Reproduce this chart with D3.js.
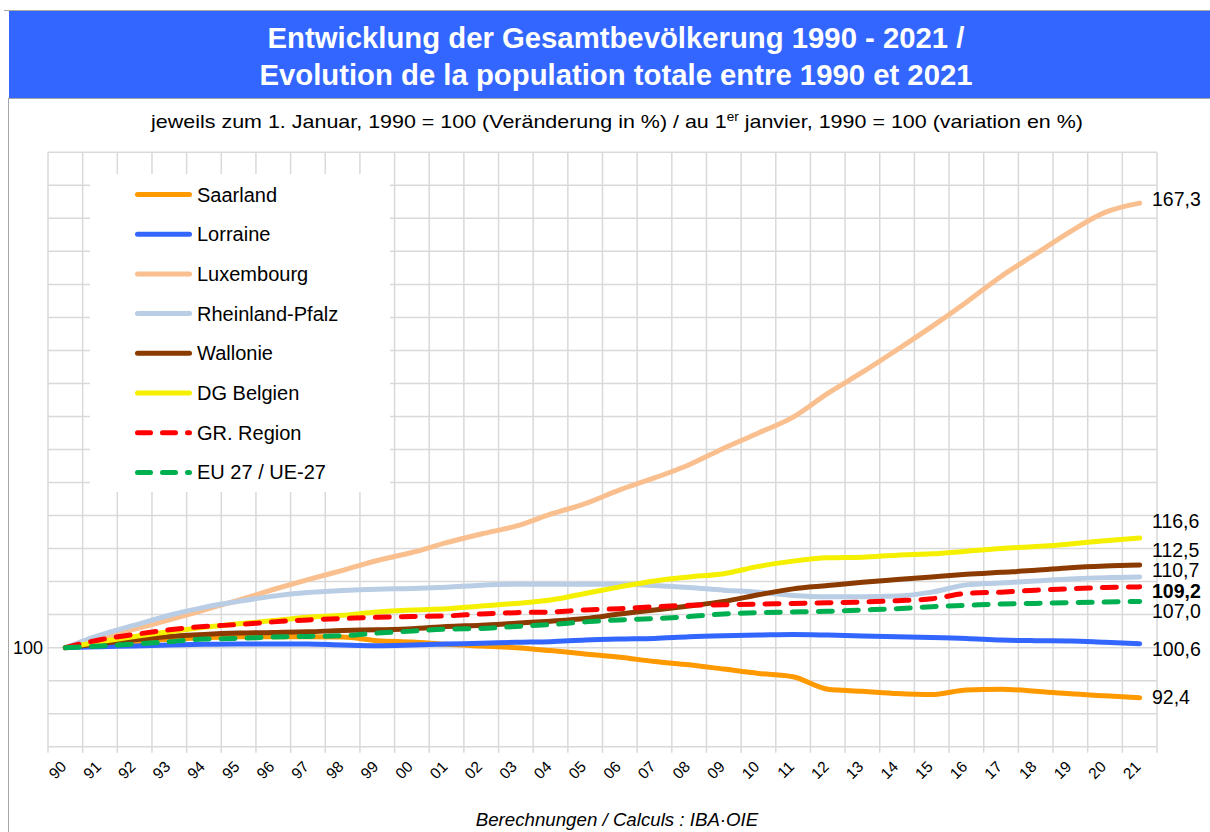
<!DOCTYPE html>
<html>
<head>
<meta charset="utf-8">
<script src="https://cdn.jsdelivr.net/npm/d3@7/dist/d3.min.js"></script>
<style>
  html, body { margin: 0; padding: 0; background: #ffffff; }
  svg { display: block; font-family: "Liberation Sans", Arial, sans-serif; }
</style>
</head>
<body>
<script>
// ---------- DATA ----------
const years = ["90","91","92","93","94","95","96","97","98","99","00","01","02","03","04","05","06","07","08","09","10","11","12","13","14","15","16","17","18","19","20","21"];

const seriesNames = ["Saarland","Lorraine","Luxembourg","Rheinland-Pfalz","Wallonie","DG Belgien","GR. Region","EU 27 / UE-27"];

const saarland   = [100,100.55,100.9,101.25,101.5,101.65,101.65,101.65,101.6,101.05,100.85,100.5,100.25,100.0,99.55,99.05,98.55,97.9,97.4,96.75,96.1,95.6,93.7,93.4,93.05,92.9,93.6,93.7,93.4,93.0,92.7,92.4];
const lorraine   = [100,100.15,100.25,100.4,100.5,100.55,100.55,100.55,100.4,100.3,100.4,100.55,100.65,100.8,100.9,101.15,101.3,101.4,101.65,101.8,101.9,102.0,101.9,101.75,101.65,101.55,101.4,101.15,101.05,101.0,100.8,100.6];
const luxembourg = [100,101.3,102.8,104.2,105.7,107.2,108.8,110.3,111.7,113.2,114.4,115.9,117.2,118.4,120.2,121.8,123.9,125.7,127.7,130.2,132.5,134.9,138.5,141.7,145.1,148.6,152.3,156.2,159.6,163.0,165.9,167.3];
const rheinland  = [100,101.9,103.4,104.9,106.1,107.0,107.8,108.35,108.65,108.85,108.95,109.15,109.45,109.6,109.6,109.6,109.6,109.4,109.1,108.7,108.4,107.9,107.7,107.7,107.8,108.4,109.5,109.8,110.1,110.4,110.6,110.7];
const wallonie   = [100,100.6,101.2,101.7,102.0,102.2,102.3,102.4,102.6,102.7,102.85,103.2,103.4,103.7,104.0,104.4,105.1,105.7,106.3,107.0,108.0,108.9,109.4,109.9,110.3,110.7,111.1,111.4,111.7,112.1,112.35,112.5];
const dgBelgien  = [100,100.9,101.7,102.4,103.1,103.6,104.1,104.6,104.9,105.4,105.7,105.9,106.3,106.7,107.2,108.2,109.2,110.1,110.7,111.2,112.3,113.1,113.6,113.7,114.0,114.2,114.6,115.0,115.3,115.7,116.2,116.6];
const grRegion   = [100,101.2,102.0,102.7,103.2,103.5,103.9,104.2,104.4,104.6,104.7,104.8,105.1,105.3,105.4,105.7,105.9,106.2,106.4,106.5,106.6,106.7,106.8,106.9,107.1,107.4,108.2,108.4,108.7,108.9,109.1,109.2];
const eu27       = [100,100.25,100.55,100.9,101.3,101.4,101.6,101.7,101.8,102.2,102.5,102.8,102.9,103.2,103.5,103.9,104.2,104.4,104.7,105.1,105.3,105.4,105.5,105.7,105.9,106.2,106.4,106.6,106.7,106.8,106.9,107.0];

const yTicks = [85,90,95,100,105,110,115,120,125,130,135,140,145,150,155,160,165,170,175];
const endLabels = ["92,4","100,6","167,3","110,7","112,5","116,6","109,2","107,0"];

// ---------- STYLE ----------
const colors = ["#FF9900","#3366FF","#FABF8F","#B9CDE5","#8B3A00","#F5F000","#FF0000","#00B050"];
const dashed = [false,false,false,false,false,false,true,true];
const labelNudge = [-1,6,-4,-7,-15,-17,4,10];   // px offset of end label vs. line end
const labelBold = [false,false,false,false,false,false,true,false];

const allSeries = [saarland,lorraine,luxembourg,rheinland,wallonie,dgBelgien,grRegion,eu27];

const W = 1210, H = 832;
const plot = {left: 48, right: 1157, top: 152.3, bottom: 746.7};

const svg = d3.select("body").append("svg").attr("width", W).attr("height", H);

// frame
svg.append("rect").attr("x",0).attr("y",0).attr("width",W).attr("height",H).attr("fill","#fff");
svg.append("line").attr("x1",4).attr("x2",W).attr("y1",10.5).attr("y2",10.5).attr("stroke","#a6a6a6").attr("stroke-width",1);
svg.append("rect").attr("x",9).attr("y",11).attr("width",W-9).attr("height",87).attr("fill","#3366FF");
svg.append("line").attr("x1",8.5).attr("x2",W).attr("y1",98.5).attr("y2",98.5).attr("stroke","#a6a6a6").attr("stroke-width",1);
svg.append("line").attr("x1",8.5).attr("x2",8.5).attr("y1",98).attr("y2",H).attr("stroke","#a6a6a6").attr("stroke-width",1);

// titles
svg.append("text").attr("x",616).attr("y",48).attr("text-anchor","middle")
  .attr("fill","#fff").attr("font-weight","bold").attr("font-size",29.3)
  .text("Entwicklung der Gesamtbevölkerung 1990 - 2021 /");
svg.append("text").attr("x",616).attr("y",85).attr("text-anchor","middle")
  .attr("fill","#fff").attr("font-weight","bold").attr("font-size",29.3)
  .text("Evolution de la population totale entre 1990 et 2021");

const subG = svg.append("g").attr("transform","translate(617,128) scale(1.13,1)");
const sub = subG.append("text").attr("x",0).attr("y",0).attr("text-anchor","middle")
  .attr("fill","#000").attr("font-size",19);
sub.append("tspan").text("jeweils zum 1. Januar, 1990 = 100 (Veränderung in %) / au 1");
sub.append("tspan").attr("font-size",12).attr("dy",-7).text("er");
sub.append("tspan").attr("dy",7).text(" janvier, 1990 = 100 (variation en %)");

// scales
const x = d3.scaleBand().domain(years).range([plot.left, plot.right]).padding(0);
const y = d3.scaleLinear().domain([85,175]).range([plot.bottom, plot.top]);
const cx = d => x(d) + x.bandwidth()/2;

// grid
const grid = svg.append("g");
const edges = years.map(d => x(d)).concat([plot.right]);
grid.selectAll(".v").data(edges).join("line")
  .attr("x1",d=>d).attr("x2",d=>d).attr("y1",plot.top).attr("y2",plot.bottom+6)
  .attr("stroke","#d9d9d9").attr("stroke-width",1.5);
grid.selectAll(".h").data(yTicks).join("line")
  .attr("x1",plot.left).attr("x2",plot.right).attr("y1",d=>y(d)).attr("y2",d=>y(d))
  .attr("stroke","#d9d9d9").attr("stroke-width",1.5);

// x axis labels
const xAxis = d3.axisBottom(x).tickSize(0).tickPadding(0);
const gx = svg.append("g").attr("transform",`translate(0,${plot.bottom})`).call(xAxis);
gx.select(".domain").remove();
gx.selectAll("text")
  .attr("font-family","\"Liberation Sans\", Arial, sans-serif")
  .attr("font-size",15.5).attr("fill","#000")
  .attr("text-anchor","end")
  .attr("dy",0)
  .attr("transform","translate(2,21) rotate(-45)");

// y label 100
svg.append("text").attr("x",43).attr("y",y(100)).attr("dy","0.35em").attr("text-anchor","end")
  .attr("font-size",18).attr("fill","#000").text("100");

// legend box
svg.append("rect").attr("x",90).attr("y",174).attr("width",300).attr("height",318).attr("fill","#fff");
const leg = svg.append("g");
seriesNames.forEach((n,i) => {
  const yy = 194.5 + i*39.7;
  leg.append("line").attr("x1",137.5).attr("x2",189.5).attr("y1",yy).attr("y2",yy)
    .attr("stroke",colors[i]).attr("stroke-width",5).attr("stroke-linecap","round")
    .attr("stroke-dasharray", dashed[i] ? "13,12" : null);
  leg.append("text").attr("x",197).attr("y",yy).attr("dy","0.35em")
    .attr("font-size",20).attr("fill","#000").text(n);
});

// lines
const line = d3.line().x((d,i)=>cx(years[i])).y(d=>y(d)).curve(d3.curveMonotoneX);
allSeries.forEach((s,i) => {
  svg.append("path").datum(s).attr("d",line).attr("fill","none")
    .attr("stroke",colors[i]).attr("stroke-width",5)
    .attr("stroke-linecap","round").attr("stroke-linejoin","round")
    .attr("stroke-dasharray", dashed[i] ? "14,12" : null);
});

// end labels
allSeries.forEach((s,i) => {
  svg.append("text").attr("x",1152).attr("y",y(s[s.length-1]) + labelNudge[i]).attr("dy","0.35em")
    .attr("font-size",19.5).attr("fill","#000").attr("font-weight",labelBold[i] ? "bold" : null)
    .text(endLabels[i]);
});

// footnote
svg.append("text").attr("x",617).attr("y",826).attr("text-anchor","middle")
  .attr("font-size",18.7).attr("font-style","italic").attr("fill","#000")
  .text("Berechnungen / Calculs : IBA·OIE");
</script>
</body>
</html>
